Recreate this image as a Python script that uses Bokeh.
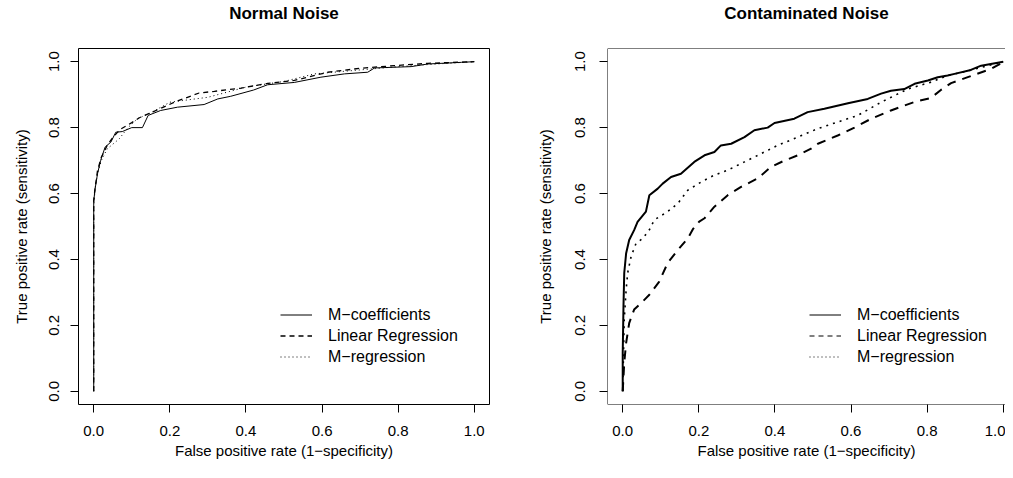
from bokeh.plotting import figure
from bokeh.layouts import row
from bokeh.models import Range1d, FixedTicker, NumeralTickFormatter, Legend, LegendItem, LinearAxis, Span
from bokeh.embed import file_html
from bokeh.resources import INLINE

FONT = "Liberation Sans"

# ---------------- data ----------------
tick_vals = [0.0, 0.2, 0.4, 0.6, 0.8, 1.0]
series_names = ["M\u2212coefficients", "Linear Regression", "M\u2212regression"]
titles = ["Normal Noise", "Contaminated Noise"]
x_label = "False positive rate (1\u2212specificity)"
y_label = "True positive rate (sensitivity)"

# Normal noise
mc_n_fpr = [0, 0, 0.003, 0.01, 0.018, 0.03, 0.045, 0.058, 0.075, 0.10, 0.128, 0.143, 0.176, 0.22,
            0.29, 0.326, 0.36, 0.42, 0.457, 0.527, 0.597, 0.659, 0.72, 0.738, 0.834, 0.878, 0.966, 1.0]
mc_n_tpr = [0, 0.575, 0.61, 0.66, 0.70, 0.741, 0.756, 0.786, 0.788, 0.80, 0.80, 0.837, 0.852, 0.862,
            0.87, 0.887, 0.895, 0.914, 0.93, 0.937, 0.953, 0.963, 0.968, 0.981, 0.985, 0.993, 0.998, 1.0]

lr_n_fpr = [0, 0, 0.004, 0.01, 0.02, 0.035, 0.05, 0.07, 0.10, 0.12, 0.15, 0.216, 0.277, 0.317,
            0.387, 0.457, 0.527, 0.615, 0.70, 0.79, 0.878, 1.0]
lr_n_tpr = [0, 0.58, 0.62, 0.67, 0.71, 0.745, 0.77, 0.795, 0.815, 0.83, 0.845, 0.879, 0.905, 0.91,
            0.92, 0.934, 0.943, 0.968, 0.98, 0.988, 0.995, 1.0]

mr_n_fpr = [0, 0, 0.004, 0.01, 0.02, 0.035, 0.067, 0.09, 0.115, 0.15, 0.2, 0.3, 0.404, 0.5,
            0.58, 0.7, 0.8, 0.9, 1.0]
mr_n_tpr = [0, 0.56, 0.62, 0.66, 0.70, 0.735, 0.766, 0.80, 0.827, 0.845, 0.877, 0.892, 0.924, 0.94,
            0.963, 0.975, 0.985, 0.993, 1.0]

# Contaminated noise
mc_c_fpr = [0, 0, 0.002, 0.004, 0.009, 0.017, 0.03, 0.039, 0.061, 0.07, 0.092, 0.105, 0.127, 0.153,
            0.188, 0.215, 0.241, 0.258, 0.285, 0.32, 0.346, 0.381, 0.399, 0.451, 0.486, 0.53, 0.592,
            0.644, 0.679, 0.705, 0.74, 0.767, 0.802, 0.828, 0.854, 0.872, 0.915, 0.942, 1.0]
mc_c_tpr = [0, 0.117, 0.258, 0.359, 0.419, 0.459, 0.489, 0.514, 0.545, 0.595, 0.615, 0.63, 0.65, 0.66,
            0.696, 0.716, 0.726, 0.746, 0.751, 0.771, 0.792, 0.80, 0.814, 0.827, 0.847, 0.857, 0.874,
            0.887, 0.903, 0.912, 0.917, 0.933, 0.943, 0.953, 0.958, 0.963, 0.975, 0.988, 1.0]

lr_c_fpr = [0, 0.004, 0.009, 0.017, 0.03, 0.053, 0.07, 0.096, 0.118, 0.145, 0.171, 0.184, 0.201, 0.215,
            0.241, 0.276, 0.311, 0.355, 0.39, 0.425, 0.46, 0.495, 0.513, 0.565, 0.609, 0.653, 0.705,
            0.767, 0.81, 0.837, 0.863, 0.907, 0.968, 0.994, 1.0]
lr_c_tpr = [0, 0.087, 0.147, 0.207, 0.248, 0.273, 0.293, 0.333, 0.389, 0.429, 0.464, 0.491, 0.515, 0.525,
            0.56, 0.595, 0.62, 0.646, 0.681, 0.70, 0.716, 0.736, 0.751, 0.776, 0.80, 0.827, 0.852,
            0.878, 0.89, 0.915, 0.935, 0.953, 0.978, 0.995, 1.0]

mr_c_fpr = [0, 0.004, 0.009, 0.013, 0.022, 0.035, 0.053, 0.07, 0.083, 0.118, 0.145, 0.171, 0.206, 0.241,
            0.276, 0.32, 0.355, 0.407, 0.46, 0.513, 0.565, 0.618, 0.679, 0.749, 0.81, 0.854, 0.9, 0.95, 1.0]
mr_c_tpr = [0, 0.218, 0.308, 0.359, 0.409, 0.449, 0.464, 0.49, 0.52, 0.545, 0.57, 0.61, 0.635, 0.656,
            0.671, 0.696, 0.716, 0.746, 0.771, 0.797, 0.817, 0.837, 0.877, 0.917, 0.938, 0.958, 0.97, 0.985, 1.0]

# axis extents used to centre the axis titles where R puts them
X_BOUNDS = (-0.02, 1.02)
Y_BOUNDS = (-0.052, 1.0)


def style_axes(p, ystandoff):
    for ax in (p.xaxis[0], p.yaxis[0]):
        ax.ticker = FixedTicker(ticks=tick_vals)
        ax.formatter = NumeralTickFormatter(format="0.0")
        ax.minor_tick_line_color = None
        ax.major_tick_in = 0
        ax.major_tick_out = 8
        ax.major_tick_line_color = "black"
        ax.major_label_text_font = FONT
        ax.major_label_text_font_size = "15px"
        ax.major_label_text_color = "black"
        ax.axis_label_text_font = FONT
        ax.axis_label_text_font_size = "15px"
        ax.axis_label_text_font_style = "normal"
        ax.axis_label_text_color = "black"
        ax.axis_line_color = None
    p.xaxis[0].axis_label = x_label
    p.yaxis[0].axis_label = y_label
    p.xaxis[0].bounds = X_BOUNDS
    p.yaxis[0].bounds = Y_BOUNDS
    p.xaxis[0].major_label_standoff = 13
    p.xaxis[0].axis_label_standoff = 3
    p.yaxis[0].major_label_orientation = "vertical"
    p.yaxis[0].major_label_standoff = ystandoff


def make_panel(title, curves, width, b_left, b_right, x_end, widths, dashes, boxed,
               ystandoff, ylab_standoff, legend_dashes):
    p = figure(width=width, height=462, output_backend="svg", toolbar_location=None,
               x_range=Range1d(-0.04, x_end), y_range=Range1d(-0.04, 1.04),
               min_border_left=b_left, min_border_right=b_right,
               min_border_top=47, min_border_bottom=58)
    p.grid.visible = False
    p.background_fill_color = "white"
    p.border_fill_color = "white"
    style_axes(p, ystandoff)
    p.yaxis[0].axis_label_standoff = ylab_standoff

    # panel title, carried by a tick-less axis above the frame
    top = LinearAxis(ticker=FixedTicker(ticks=[]), axis_label=title, bounds=X_BOUNDS,
                     major_tick_out=0, major_tick_in=0, minor_tick_out=0, minor_tick_in=0,
                     major_label_standoff=0, major_label_text_font_size="0px",
                     axis_label_standoff=26, axis_label_text_font=FONT,
                     axis_label_text_font_size="17px", axis_label_text_font_style="bold",
                     axis_label_text_color="black", axis_line_color=None)
    p.add_layout(top, "above")

    if boxed:
        p.outline_line_color = "black"
        p.outline_line_width = 1
    else:
        # box without its right side (it lies beyond the page edge)
        p.outline_line_color = None
        p.add_layout(Span(location=1.04, dimension="width", line_color="black", line_width=1))
        p.add_layout(Span(location=-0.04, dimension="width", line_color="black", line_width=1))
        p.add_layout(Span(location=-0.04, dimension="height", line_color="black", line_width=1))

    items = []
    for (fx, ty), name, lw, dash, ldash in zip(curves, series_names, widths, dashes, legend_dashes):
        r = p.line(fx, ty, line_color="black", line_width=lw, line_dash=dash)
        if ldash is not None:
            # thin legend key (single-point line, invisible in the plot area)
            r = p.line(fx[:1], ty[:1], line_color="black", line_width=1, line_dash=ldash)
        items.append(LegendItem(label=name, renderers=[r]))
    leg = Legend(items=items, location=(202, 37), border_line_color=None,
                 background_fill_alpha=0, padding=0, margin=0, spacing=0,
                 glyph_width=32, glyph_height=21, label_height=21, label_standoff=16,
                 label_text_font=FONT, label_text_font_size="16px", label_text_color="black")
    p.add_layout(leg)
    return p


left = make_panel(titles[0],
                  [(mc_n_fpr, mc_n_tpr), (lr_n_fpr, lr_n_tpr), (mr_n_fpr, mr_n_tpr)],
                  506, 78, 17, 1.04, [1, 1.3, 1], ["solid", "5 4", "1 3"], True,
                  11, 17, [None, None, None])
right = make_panel(titles[1],
                   [(mc_c_fpr, mc_c_tpr), (lr_c_fpr, lr_c_tpr), (mr_c_fpr, mr_c_tpr)],
                   499, 101, 0, 1.006, [2, 2, 1.6], ["solid", "9 7", "2 5"], False,
                   14, 19, ["solid", "5 4", "1 3"])

layout = row(left, right, spacing=0)
open("out.html", "w").write(file_html(layout, INLINE))
